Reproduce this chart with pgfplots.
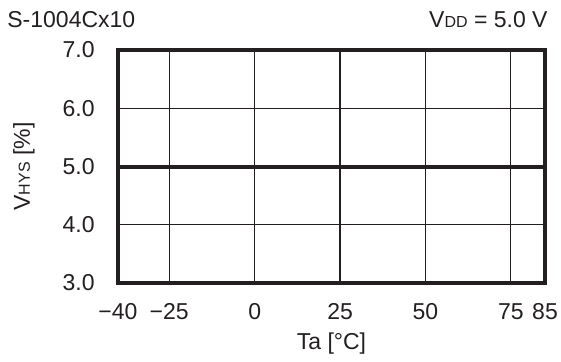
\documentclass[border=0pt]{standalone}
\usepackage{pgfplots}
\pgfplotsset{compat=1.18}
\usepackage{fontspec}
\setmainfont{Liberation Sans}
\definecolor{ink}{RGB}{35,31,32}
\begin{document}
\fontsize{11.5}{13.8}\selectfont
\begin{tikzpicture}
\path[use as bounding box] (-59pt,-39.5pt) rectangle (221.5pt,141.5pt);
\begin{axis}[
  at={(0,0)}, anchor=south west,
  scale only axis, width=213.5pt, height=116.5pt,
  xmin=-40, xmax=85, ymin=3, ymax=7,
  xtick={-40,-25,0,25,50,75,85},
  xticklabels={−40,−25,0,25,50,75,85},
  ytick={3,4,5,6,7},
  yticklabels={3.0,4.0,5.0,6.0,7.0},
  major tick length=0pt,
  grid=major,
  major grid style={ink, line width=0.6pt},
  axis line style={ink, line width=2pt},
  tick label style={font=\fontsize{11.5}{13.8}\selectfont, text=ink},
  xticklabel style={anchor=north, text height=8.3pt, text depth=0pt, inner sep=0pt, yshift=-10pt},
  yticklabel style={anchor=east, inner sep=0pt, xshift=-11.5pt},
  /pgf/number format/assume math mode=true,
  clip=false,
]
\addplot[ink, line width=2pt] coordinates {(-40,4.99) (-25,4.99) (0,4.99) (25,4.99) (50,4.99) (75,4.99) (85,4.99)};
\end{axis}
\node[anchor=base west, text=ink, inner sep=0pt] at (-55.5pt,127.5pt) {S-1004Cx10};
\node[anchor=base east, text=ink, inner sep=0pt] at (215pt,127.5pt) {V{\fontsize{8}{9}\selectfont DD} = 5.0 V};
\node[rotate=90, text=ink, inner sep=0pt] at (-47pt,58.25pt) {V{\fontsize{8}{9}\selectfont HYS} [\%]};
\node[anchor=base, text=ink, inner sep=0pt] at (106.75pt,-33.5pt) {Ta [°C]};
\end{tikzpicture}
\end{document}
